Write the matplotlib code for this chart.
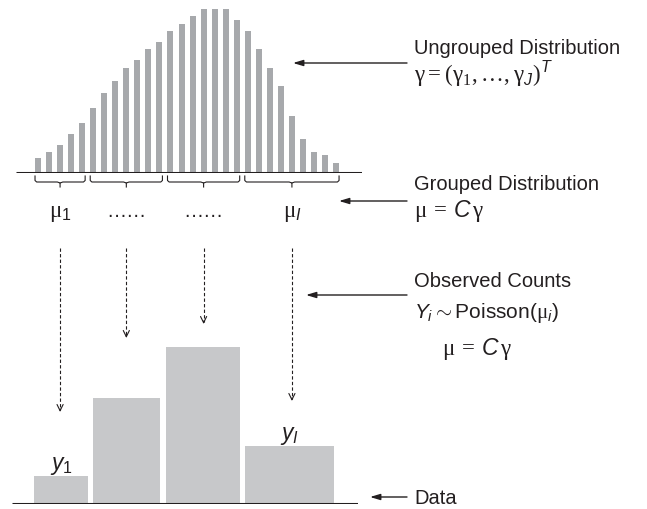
import matplotlib
matplotlib.use('Agg')
import matplotlib.pyplot as plt
from matplotlib import transforms

plt.rcParams['font.family'] = ['Liberation Sans', 'DejaVu Sans']
plt.rcParams['mathtext.fontset'] = 'custom'
plt.rcParams['mathtext.rm'] = 'Liberation Serif'
plt.rcParams['mathtext.it'] = 'Liberation Sans:italic'
plt.rcParams['mathtext.sf'] = 'Liberation Sans'
plt.rcParams['mathtext.bf'] = 'Liberation Sans:bold'

# ---------------- data ----------------
ungrouped = [15, 21, 28, 39, 50, 65, 80, 92, 105, 113, 124, 131, 142, 149,
             157, 164, 164, 164, 153, 142, 124, 105, 87, 57, 34, 21, 18, 10]
group_sizes = [5, 7, 7, 9]
group_labels = [r'$\mathrm{μ}_\mathsf{1}$', '……', '……', r'$\mathrm{μ}_I$']
observed = [28, 106, 157, 58]
observed_labels = [r'$y_\mathsf{1}$', None, None, r'$y_I$']

# ---------------- layout / style ----------------
W, H = 647, 510
INK = '#231f20'
TOP_GRAY = '#a7a9ac'
BOT_GRAY = '#c7c8ca'
FS = 14.5
MFS = 16.5

fig = plt.figure(figsize=(W / 100, H / 100), dpi=100)

# overlay in pixel coordinates (y downwards)
ov = fig.add_axes([0, 0, 1, 1])
ov.set_xlim(0, W)
ov.set_ylim(H, 0)
ov.axis('off')

# top axes: ungrouped distribution, x in bin index, y in px-like units
px0, spacing = 38.0, 11.04
top_left_px, top_right_px = 16, 362
top_base_px = 174
xl = 1 + (top_left_px - px0) / spacing
xr = 1 + (top_right_px - px0) / spacing
ax_top = fig.add_axes([top_left_px / W, (H - top_base_px) / H,
                       (top_right_px - top_left_px) / W, top_base_px / H])
ax_top.set_xlim(xl, xr)
ax_top.set_ylim(0, top_base_px)
ax_top.axis('off')
idx = list(range(1, len(ungrouped) + 1))
ax_top.bar(idx, ungrouped, width=0.54, color=TOP_GRAY, linewidth=0)
ax_top.axhline(0, color=INK, lw=2.2, solid_capstyle='butt')

# braces and group labels
blend = transforms.blended_transform_factory(ax_top.transData, ov.transData)
start = 1
group_centers = []
for size, lab in zip(group_sizes, group_labels):
    a, b = start, start + size - 1
    x0, x1 = a - 0.27, b + 0.27
    xm = (x0 + x1) / 2
    group_centers.append(xm)
    ys = [-3, -7.5, -9, -9, -10, -14]
    xs = [x0, x0, x0 + 0.15, xm - 0.25, xm, xm]
    ax_top.plot(xs, ys, color=INK, lw=0.8, clip_on=False)
    xs2 = [x1, x1, x1 - 0.15, xm + 0.25, xm]
    ys2 = [-3, -7.5, -9, -9, -10]
    ax_top.plot(xs2, ys2, color=INK, lw=0.8, clip_on=False)
    ov.text(xm, 217, lab, transform=blend, ha='center', va='baseline',
            fontsize=MFS if lab.startswith('$') else FS, color=INK)
    start += size

# dashed arrows from groups to observed counts
tips = [413, 339, 325, 402]
for xm, tip in zip(group_centers, tips):
    ov.plot([xm, xm], [249, tip - 2], transform=blend, color=INK, lw=0.8,
            linestyle=(0, (3, 2)))
    ov.annotate('', xy=(xm, tip), xytext=(xm, tip - 3), xycoords=blend,
                textcoords=blend,
                arrowprops=dict(arrowstyle='->,head_length=0.45,head_width=0.22',
                                color=INK, lw=0.8, shrinkA=0, shrinkB=0))

# bottom axes: observed counts, x in pixel units
bot_left_px, bot_right_px = 12, 358
bot_base_px, bot_top_px = 505, 300
ax_bot = fig.add_axes([bot_left_px / W, (H - bot_base_px) / H,
                       (bot_right_px - bot_left_px) / W,
                       (bot_base_px - bot_top_px) / H])
ax_bot.set_xlim(bot_left_px, bot_right_px)
ax_bot.set_ylim(0, bot_base_px - bot_top_px)
ax_bot.axis('off')
bar_edges = [(34, 88), (93, 160), (166, 240), (245, 334)]
for (l, r), v, lab in zip(bar_edges, observed, observed_labels):
    ax_bot.bar(l, v, width=r - l, align='edge', color=BOT_GRAY, linewidth=0)
    if lab:
        ax_bot.text((l + r) / 2, v + 7, lab, ha='center', va='baseline',
                    fontsize=MFS, color=INK)
ax_bot.axhline(0, color=INK, lw=2.2, solid_capstyle='butt')

# right-hand annotations
TX = 414
ov.text(TX, 54, 'Ungrouped Distribution', fontsize=FS, color=INK, va='baseline')
ov.text(TX, 82, r'$\mathrm{γ} = (\mathrm{γ}_1, \ldots, \mathrm{γ}_J)^T$',
        fontsize=MFS, color=INK, va='baseline')
ov.text(TX, 190, 'Grouped Distribution', fontsize=FS, color=INK, va='baseline')
ov.text(TX, 217, r'$\mathrm{μ}\,=\,C\,\mathrm{γ}$', fontsize=MFS, color=INK,
        va='baseline')
ov.text(TX, 287, 'Observed Counts', fontsize=FS, color=INK, va='baseline')
ov.text(TX, 318, r'$Y_i \sim \mathsf{Poisson(}\mathrm{μ}_i\mathsf{)}$',
        fontsize=FS + 0.5, color=INK, va='baseline')
ov.text(442, 355, r'$\mathrm{μ}\,=\,C\,\mathrm{γ}$', fontsize=MFS, color=INK,
        va='baseline')
ov.text(TX, 504, 'Data', fontsize=FS, color=INK, va='baseline')

arrow_rows = [(64, 293), (202, 339), (296, 306), (498, 370)]
for y, xtip in arrow_rows:
    ov.annotate('', xy=(xtip, y), xytext=(407, y),
                arrowprops=dict(arrowstyle='-|>,head_length=0.6,head_width=0.18',
                                color=INK, lw=1.0, shrinkA=0, shrinkB=0))

fig.savefig('out.png', dpi=100)
